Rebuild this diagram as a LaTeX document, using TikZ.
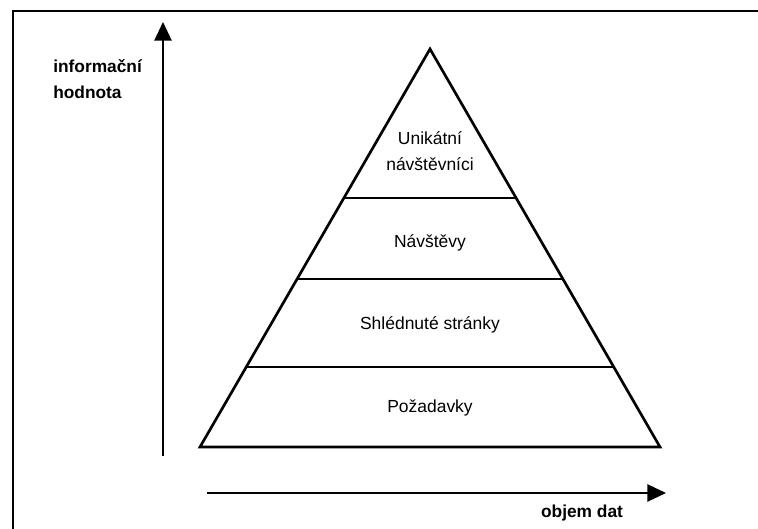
\documentclass[tikz,border=0pt]{standalone}
\usepackage{fontspec}
\setmainfont{Liberation Sans}
\usetikzlibrary{arrows.meta,positioning,calc}

\begin{document}
\begin{tikzpicture}[x=0.75pt, y=-0.75pt, font=\fontsize{13.1}{19.5}\selectfont]
          \tikzset{
            lvl/.style={align=center, inner sep=1pt},
            ax/.style={align=left, inner sep=0pt, font=\fontsize{13}{20}\selectfont\bfseries},
            sep/.style={line width=1.3pt},
            arr/.style={-{Triangle[length=14pt, width=13pt]}, line width=1.1pt}
          }
          \clip (0,0) rectangle (758,529);
          \fill[white] (0,0) rectangle (758,529);
          \draw[line width=1.5pt] (13,11) rectangle (780,560);
          % pyramid
          \coordinate (top) at (430,49);
          \coordinate (bl) at (200,447);
          \coordinate (br) at (660,447);
          \draw[line width=2pt, line join=miter] (top) -- (bl) -- (br) -- cycle;
          \draw[sep] ($(top)!0.374!(bl)$) -- ($(top)!0.374!(br)$);
          \draw[sep] ($(top)!0.578!(bl)$) -- ($(top)!0.578!(br)$);
          \draw[sep] ($(top)!0.799!(bl)$) -- ($(top)!0.799!(br)$);
          \node[lvl] (uniq) at (430,151) {Unikátní\\návštěvníci};
          \node[lvl] (visits) at (430,243) {Návštěvy};
          \node[lvl] (pages) at (430,325) {Shlédnuté stránky};
          \node[lvl] (reqs) at (430,408) {Požadavky};
          % axes
          \coordinate (yfrom) at (163,456);
          \coordinate (yto) at (163,22);
          \coordinate (xfrom) at (207,493);
          \coordinate (xto) at (666,493);
          \draw[arr] (yfrom) -- (yto);
          \draw[arr] (xfrom) -- (xto);
          \node[ax, anchor=west] (value) at (53,79) {informační\\hodnota};
          \node[ax] (volume) at (582,513) {objem dat};
        \end{tikzpicture}
\end{document}
